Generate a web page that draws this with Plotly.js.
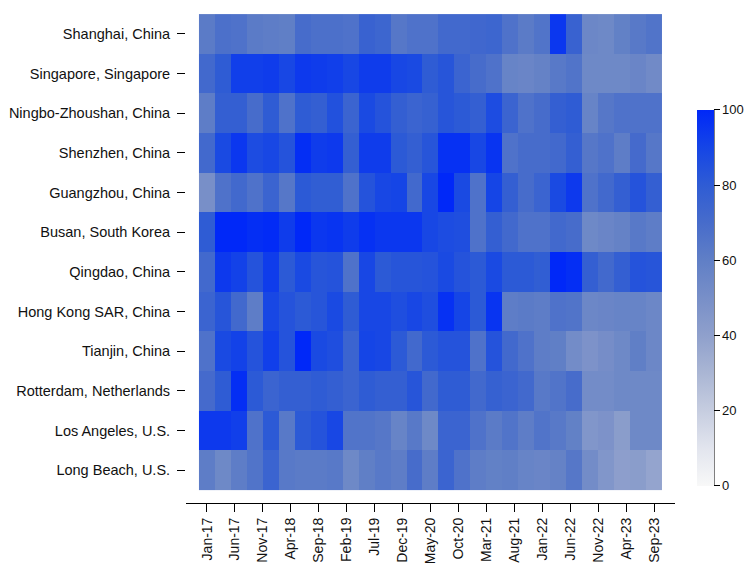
<!DOCTYPE html>
<html>
<head>
<meta charset="utf-8">
<script src="https://cdn.plot.ly/plotly-3.0.1.min.js"></script>
<style>html,body{margin:0;padding:0;background:#fff;}#chart{width:751px;height:563px;}</style>
</head>
<body>
<div id="chart"></div>
<script>
// Ports (top to bottom)
var ports = ["Shanghai, China","Singapore, Singapore","Ningbo-Zhoushan, China","Shenzhen, China",
  "Guangzhou, China","Busan, South Korea","Qingdao, China","Hong Kong SAR, China",
  "Tianjin, China","Rotterdam, Netherlands","Los Angeles, U.S.","Long Beach, U.S."];

// Period index (29 periods, Jan-17 .. Sep-23)
var periods = [0,1,2,3,4,5,6,7,8,9,10,11,12,13,14,15,16,17,18,19,20,21,22,23,24,25,26,27,28];

// Tick labels along the time axis
var tickLabels = ["Jan-17","Jun-17","Nov-17","Apr-18","Sep-18","Feb-19","Jul-19","Dec-19","May-20",
  "Oct-20","Mar-21","Aug-21","Jan-22","Jun-22","Nov-22","Apr-23","Sep-23"];

// Index values per port
var shanghai   = [62,68,67,62,61,60,70,68,68,67,76,74,64,67,67,72,72,73,74,67,62,66,95,76,55,54,59,63,66];
var singapore  = [72,80,92,92,93,89,94,93,92,89,93,93,89,88,80,83,75,70,67,57,56,58,63,66,54,54,54,56,53];
var ningbo     = [61,78,78,70,80,67,80,78,85,75,88,84,78,75,77,83,81,78,87,75,67,70,78,80,57,64,67,67,67];
var shenzhen   = [72,88,95,87,89,84,98,93,94,78,93,93,81,78,83,97,97,89,96,67,70,70,72,78,64,67,61,71,64];
var guangzhou  = [50,67,72,67,75,64,81,79,79,67,84,89,90,72,89,100,88,67,90,78,70,75,88,94,67,72,78,84,78];
var busan      = [80,100,100,98,99,93,100,95,96,93,97,95,95,95,89,87,86,67,78,72,67,67,72,70,54,56,58,63,61];
var qingdao    = [72,94,91,84,93,81,88,83,84,67,89,81,83,83,84,88,84,81,88,81,81,79,100,98,78,72,78,84,83];
var hongkong   = [75,83,72,61,89,84,81,83,88,80,89,89,86,89,86,97,90,81,96,61,62,61,67,66,55,56,57,57,55];
var tianjin    = [67,88,91,84,92,84,100,88,86,75,90,89,81,72,81,84,84,67,84,72,67,61,60,52,48,51,54,60,55];
var rotterdam  = [71,80,98,81,75,78,78,80,78,75,80,78,78,83,72,80,80,72,77,75,72,63,66,70,52,52,54,54,54];
var losangeles = [94,94,92,67,81,63,81,84,89,66,66,64,57,63,54,75,75,67,62,66,61,66,63,59,46,48,42,54,54];
var longbeach  = [61,54,61,66,75,63,62,62,63,54,60,63,61,70,61,75,67,61,59,60,57,56,58,64,52,46,41,42,38];

var z = [shanghai,singapore,ningbo,shenzhen,guangzhou,busan,qingdao,hongkong,tianjin,rotterdam,losangeles,longbeach];

// tick positions: first period = Jan-17, last period = Sep-23 (80 months apart)
var nP = periods.length;
var tickVals = tickLabels.map(function(_, i){ return i * 5 * (nP - 1) / 80; });

var colorscale = [
  [0.0,"#f8f8f8"],[0.1,"#e2e5ee"],[0.2,"#c6cde0"],[0.3,"#aab6d4"],[0.4,"#8fa0cc"],
  [0.5,"#788fc8"],[0.6,"#607fc6"],[0.7,"#476ccb"],[0.8,"#2f5cd4"],[0.9,"#1545e6"],[1.0,"#0028f8"]
];

var yFont = {family:"Liberation Sans, Arial, sans-serif", size:14.5, color:"#111"};
var xFont = {family:"Liberation Sans, Arial, sans-serif", size:14, color:"#111"};
var cbFont = {family:"Liberation Sans, Arial, sans-serif", size:13, color:"#111"};

var trace = {
  type:"heatmap", x:periods, y:ports, z:z, zmin:0, zmax:100,
  colorscale:colorscale, showscale:true, hoverongaps:false,
  colorbar:{
    x:1.045, xanchor:"left", xpad:0, ypad:0,
    y:0.034, yanchor:"bottom", len:0.749, lenmode:"fraction",
    thickness:17, outlinewidth:0,
    ticks:"outside", ticklen:6, tickwidth:1, tickcolor:"#000",
    tickvals:[0,20,40,60,80,100], tickfont:cbFont
  }
};

var cbRight = 1.045 + 17/489;

var layout = {
  width:751, height:563,
  margin:{l:186, r:76, t:1, b:60},
  paper_bgcolor:"#fff", plot_bgcolor:"#fff",
  font:yFont,
  xaxis:{
    range:[-1.3125, nP - 1 + 1.3125], showgrid:false, zeroline:false,
    showline:true, linecolor:"#000", linewidth:1,
    ticks:"outside", ticklen:8, tickwidth:1, tickcolor:"#000",
    tickmode:"array", tickvals:tickVals, ticktext:tickLabels, tickangle:-90, tickfont:xFont
  },
  yaxis:{
    type:"category", range:[11.83, -0.83], showgrid:false, zeroline:false, showline:false,
    ticks:"outside", ticklen:8, tickwidth:1, tickcolor:"#000", tickfont:yFont,
    ticklabelstandoff:4
  },
  shapes:[{type:"line", xref:"paper", yref:"paper", x0:cbRight, x1:cbRight, y0:0.034, y1:0.783,
    line:{color:"#000", width:1}}]
};

Plotly.newPlot("chart", [trace], layout, {displayModeBar:false, staticPlot:true});
</script>
</body>
</html>
